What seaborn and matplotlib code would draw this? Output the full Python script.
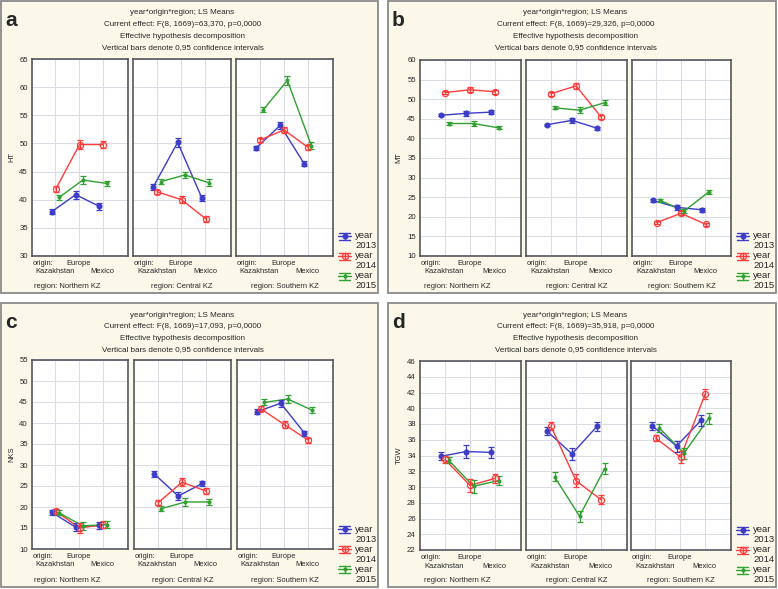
import numpy as np
import pandas as pd
import seaborn as sns
import matplotlib.pyplot as plt
from matplotlib.patches import Rectangle
from matplotlib.lines import Line2D

W, H = 778, 589

origins = ["Kazakhstan", "Europe", "Mexico"]
regions = ["Northern KZ", "Central KZ", "Southern KZ"]
years = ["2013", "2014", "2015"]

# LS means, order: Northern (Kaz, Eur, Mex), Central (Kaz, Eur, Mex), Southern (Kaz, Eur, Mex)
ht_2013 = [37.9, 40.9, 38.8, 42.3, 50.2, 40.3, 49.2, 53.2, 46.4]
ht_2014 = [41.9, 49.8, 49.8, 41.4, 40.0, 36.6, 50.6, 52.4, 49.3]
ht_2015 = [40.4, 43.5, 42.9, 43.2, 44.4, 43.0, 56.0, 61.2, 49.6]
ht_ci_2013 = [0.4, 0.7, 0.6, 0.5, 0.8, 0.6, 0.4, 0.6, 0.4]
ht_ci_2014 = [0.5, 0.8, 0.6, 0.4, 0.6, 0.5, 0.4, 0.6, 0.5]
ht_ci_2015 = [0.4, 0.7, 0.5, 0.4, 0.6, 0.6, 0.4, 0.8, 0.6]

mt_2013 = [45.9, 46.4, 46.7, 43.5, 44.6, 42.6, 24.2, 22.4, 21.8]
mt_2014 = [51.7, 52.4, 51.9, 51.4, 53.4, 45.5, 18.5, 20.9, 18.1]
mt_2015 = [43.8, 43.8, 42.7, 47.8, 47.2, 49.1, 24.2, 21.5, 26.4]
mt_ci_2013 = [0.3, 0.7, 0.5, 0.3, 0.6, 0.4, 0.4, 0.6, 0.5]
mt_ci_2014 = [0.5, 0.6, 0.5, 0.5, 0.7, 0.5, 0.4, 0.5, 0.4]
mt_ci_2015 = [0.3, 0.7, 0.4, 0.4, 0.7, 0.6, 0.4, 0.6, 0.5]

nks_2013 = [18.7, 15.2, 15.6, 27.9, 22.6, 25.6, 42.7, 44.7, 37.6]
nks_2014 = [19.0, 15.0, 15.8, 21.0, 25.9, 23.8, 43.4, 39.6, 35.9]
nks_2015 = [18.6, 15.5, 15.8, 19.6, 21.2, 21.2, 44.9, 45.7, 43.1]
nks_ci_2013 = [0.6, 1.0, 0.9, 0.7, 0.9, 0.7, 0.6, 0.8, 0.6]
nks_ci_2014 = [0.6, 1.2, 0.9, 0.6, 0.9, 0.7, 0.6, 0.9, 0.6]
nks_ci_2015 = [0.6, 1.0, 0.9, 0.6, 0.9, 0.8, 0.7, 1.0, 0.7]

tgw_2013 = [33.9, 34.5, 34.4, 37.1, 34.2, 37.7, 37.8, 35.2, 38.5]
tgw_2014 = [33.5, 30.2, 31.1, 37.7, 30.8, 28.4, 36.2, 33.8, 41.8]
tgw_2015 = [33.4, 30.1, 30.8, 31.3, 26.3, 32.3, 37.5, 34.3, 38.7]
tgw_ci_2013 = [0.5, 0.8, 0.7, 0.5, 0.8, 0.6, 0.5, 0.7, 0.7]
tgw_ci_2014 = [0.4, 0.8, 0.6, 0.5, 0.8, 0.6, 0.4, 0.8, 0.6]
tgw_ci_2015 = [0.4, 0.8, 0.6, 0.6, 0.7, 0.7, 0.5, 0.7, 0.7]

f_texts = ["F(8, 1669)=63,370", "F(8, 1669)=29,326", "F(8, 1669)=17,093", "F(8, 1669)=35,918"]

colors = {"2013": "#3c3cc8", "2014": "#ff3c3c", "2015": "#30a030"}
dodge = {"2013": -0.14, "2014": 0.02, "2015": 0.16}
mstyle = {"2013": dict(marker="o", ms=3.4, mfc=colors["2013"]),
          "2014": dict(marker="o", ms=4.4, mfc="none"),
          "2015": dict(marker="o", ms=2.0, mfc=colors["2015"])}


def long_table(trait, means, cis):
    rows = []
    for yr, m, c in zip(years, means, cis):
        for k in range(9):
            rows.append(dict(trait=trait, year=yr, region=regions[k // 3],
                             origin=origins[k % 3], idx=k % 3, mean=m[k], ci=c[k]))
    return rows


df = pd.DataFrame(
    long_table("HT", [ht_2013, ht_2014, ht_2015], [ht_ci_2013, ht_ci_2014, ht_ci_2015])
    + long_table("MT", [mt_2013, mt_2014, mt_2015], [mt_ci_2013, mt_ci_2014, mt_ci_2015])
    + long_table("NKS", [nks_2013, nks_2014, nks_2015], [nks_ci_2013, nks_ci_2014, nks_ci_2015])
    + long_table("TGW", [tgw_2013, tgw_2014, tgw_2015], [tgw_ci_2013, tgw_ci_2014, tgw_ci_2015])
)
df["xpos"] = df["idx"] + df["year"].map(dodge)

sns.set_style("white")
plt.rcParams["font.family"] = ["Liberation Sans", "DejaVu Sans"]

fig = plt.figure(figsize=(W / 100, H / 100), dpi=100)
fig.patch.set_facecolor("white")

SMALL = 5.4


def fx(x):
    return x / W


def fy(y):
    return 1 - y / H


def ftext(x, y, s, **kw):
    fig.text(fx(x), fy(y), s, **kw)


# panel layout in pixels: (letter, trait, ylim, ystep, frame, subplot x ranges, subplot top/bottom)
panels = [
    ("a", "HT", (30, 65), 5, (1, 1, 378, 293), [(32, 128), (133, 231), (236, 333)], (59, 256)),
    ("b", "MT", (10, 60), 5, (388, 1, 776, 293), [(420, 521), (526, 627), (632, 731)], (60, 256)),
    ("c", "NKS", (10, 55), 5, (1, 303, 378, 587), [(32, 128), (134, 231), (237, 333)], (360, 549)),
    ("d", "TGW", (22, 46), 2, (388, 303, 776, 587), [(420, 521), (526, 627), (631, 731)], (361, 550)),
]

for p, (letter, trait, ylim, ystep, frame, xr, (top, bot)) in enumerate(panels):
    x0, y0, x1, y1 = frame
    fig.add_artist(Rectangle((fx(x0), fy(y1)), (x1 - x0) / W, (y1 - y0) / H,
                             transform=fig.transFigure, facecolor="#fbf8ea",
                             edgecolor="#8a8a8a", lw=1.3, zorder=0))
    cx = (xr[0][0] + xr[2][1]) / 2
    title_lines = ["year*origin*region; LS Means",
                   f"Current effect: {f_texts[p]}, p=0,0000",
                   "Effective hypothesis decomposition",
                   "Vertical bars denote 0,95 confidence intervals"]
    for i, line in enumerate(title_lines):
        ftext(cx, y0 + 12 + 11.6 * i, line, ha="center", va="center", fontsize=5.8)
    ftext(x0 + 4, y0 + 20, letter, ha="left", va="center", fontsize=15, fontweight="bold")

    sub = df[df["trait"] == trait]
    for r, region in enumerate(regions):
        ax = fig.add_axes([fx(xr[r][0]), fy(bot), (xr[r][1] - xr[r][0]) / W, (bot - top) / H])
        ax.set_facecolor("white")
        part = sub[sub["region"] == region]
        sns.lineplot(data=part, x="xpos", y="mean", hue="year", palette=colors,
                     lw=1.0, legend=False, ax=ax, zorder=3)
        for yr in years:
            d = part[part["year"] == yr]
            ax.errorbar(d["xpos"], d["mean"], yerr=d["ci"], fmt="none",
                        ecolor=colors[yr], elinewidth=0.9, capsize=2.5, capthick=0.9, zorder=4)
            ax.plot(d["xpos"], d["mean"], ls="none", color=colors[yr],
                    mec=colors[yr], mew=0.9, zorder=5, **mstyle[yr])
        ax.set_xlim(-0.98, 3.06)
        ax.set_ylim(*ylim)
        ax.set_xticks([0, 1, 2])
        ax.set_xticklabels([])
        ax.set_yticks(np.arange(ylim[0], ylim[1] + 0.1, ystep))
        ax.grid(True, color="#dcdce4", lw=0.8)
        ax.tick_params(length=0, labelsize=5.6, pad=3)
        if r > 0:
            ax.set_yticklabels([])
        else:
            ax.set_yticklabels([f"{v:g}" for v in ax.get_yticks()])
        ax.set_xlabel("")
        ax.set_ylabel("")
        for s in ax.spines.values():
            s.set_color("#555560")
            s.set_linewidth(1.2)

        # staggered category labels
        ax0 = xr[r][0]
        unit = (xr[r][1] - xr[r][0]) / 4.04
        gx = [ax0 + (k + 0.98) * unit for k in range(3)]
        ftext(ax0 + 1, bot + 7.5, "origin:", ha="left", va="center", fontsize=SMALL)
        ftext(gx[1], bot + 7.5, origins[1], ha="center", va="center", fontsize=SMALL)
        ftext(gx[0], bot + 16, origins[0], ha="center", va="center", fontsize=SMALL)
        ftext(gx[2], bot + 16, origins[2], ha="center", va="center", fontsize=SMALL)
        rx = (xr[r][0] + xr[r][1]) / 2 - (13 if r == 0 else 0)
        ftext(rx, bot + 31, f"region: {region}", ha="center", va="center", fontsize=SMALL)

    ftext(x0 + 11, (top + bot) / 2, trait, ha="center", va="center", rotation=90, fontsize=SMALL)

    # legend
    lx = xr[2][1] + 5
    for i, yr in enumerate(years):
        ly = bot - 20 + 20 * i
        c = colors[yr]
        for xs, ys in [((lx, lx + 13), (ly, ly)), ((lx + 1, lx + 12), (ly - 3.5, ly - 3.5)),
                       ((lx + 1, lx + 12), (ly + 3.5, ly + 3.5)), ((lx + 6.5, lx + 6.5), (ly - 3.5, ly + 3.5))]:
            fig.add_artist(Line2D([fx(v) for v in xs], [fy(v) for v in ys], color=c, lw=1.0,
                                  transform=fig.transFigure))
        m = mstyle[yr]
        fig.add_artist(Line2D([fx(lx + 6.5)], [fy(ly)], color=c, mec=c, mew=0.9,
                              transform=fig.transFigure, **m))
        ftext(lx + 17, ly, "year", ha="left", va="center", fontsize=6.8)
        ftext(lx + 17, ly + 10, yr, ha="left", va="center", fontsize=6.8)

fig.savefig("out.png", dpi=100)
